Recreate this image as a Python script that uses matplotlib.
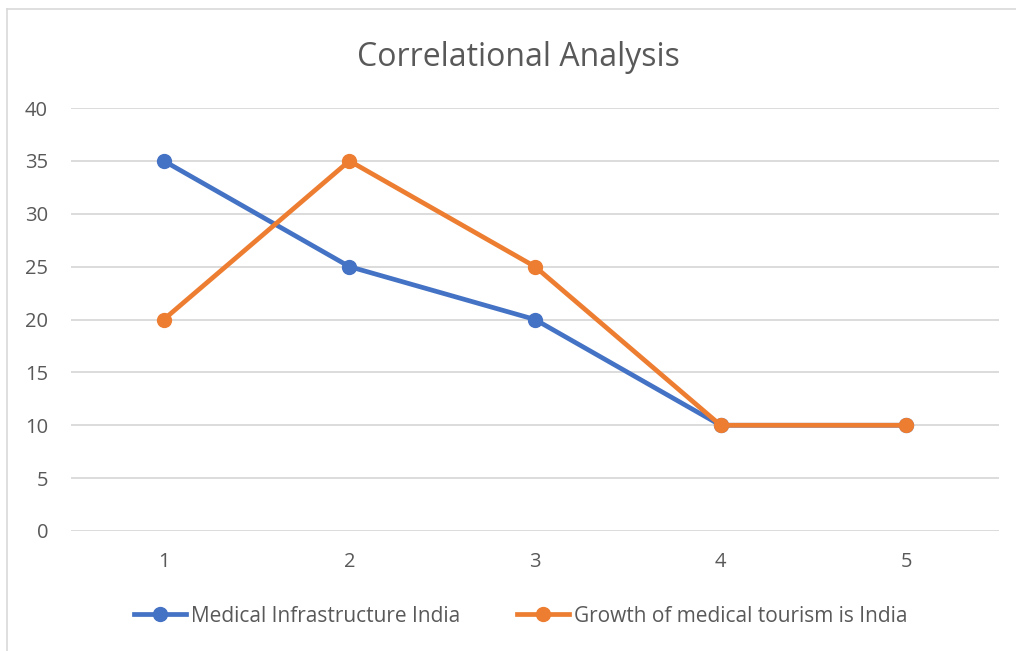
import matplotlib.pyplot as plt
from matplotlib.lines import Line2D

categories = [1, 2, 3, 4, 5]
medical_infra = [35, 25, 20, 10, 10]
tourism_growth = [20, 35, 25, 10, 10]
series_names = ["Medical Infrastructure India", "Growth of medical tourism is India"]

BLUE = "#4472C4"
ORANGE = "#ED7D31"
TEXT = "#595959"
GRID = "#D9D9D9"

plt.rcParams['font.family'] = ['Open Sans', 'DejaVu Sans']

fig = plt.figure(figsize=(10.16, 6.51), dpi=100)
ax = fig.add_axes([71 / 1016, 1 - 531 / 651, 928 / 1016, 423 / 651])

x = list(range(len(categories)))
ax.plot(x, medical_infra, color=BLUE, lw=3.4, marker='o', ms=10, label=series_names[0],
        solid_capstyle='round', zorder=3)
ax.plot(x, tourism_growth, color=ORANGE, lw=3.4, marker='o', ms=10, label=series_names[1],
        solid_capstyle='round', zorder=4)

ax.set_xlim(-0.5, len(categories) - 0.5)
ax.set_ylim(0, 40)
ax.set_yticks(range(0, 41, 5))
ax.set_xticks(x)
ax.set_xticklabels([str(c) for c in categories])
ax.grid(axis='y', color=GRID, lw=1.3)
ax.set_axisbelow(True)
for s in ax.spines.values():
    s.set_visible(False)
ax.tick_params(length=0, labelsize=14.5, colors=TEXT)
ax.tick_params(axis='y', pad=16.5)
ax.tick_params(axis='x', pad=15)

fig.text(518 / 1016, 1 - 57 / 651, "Correlational Analysis", ha='center', va='center',
         fontsize=23, color=TEXT)

handles = [Line2D([], [], color=BLUE, lw=3.4, marker='o', ms=10),
           Line2D([], [], color=ORANGE, lw=3.4, marker='o', ms=10)]
fig.legend(handles, series_names, loc='center', bbox_to_anchor=(521 / 1016, 1 - 616 / 651),
           ncol=2, frameon=False, fontsize=15, labelcolor=TEXT, handlelength=2.5,
           handletextpad=0.25, columnspacing=2.7)

# chart border (only top and left visible in reference)
fig.add_artist(Line2D([7 / 1016, 1], [1 - 9 / 651, 1 - 9 / 651], color=GRID, lw=1.2))
fig.add_artist(Line2D([7 / 1016, 7 / 1016], [0, 1 - 9 / 651], color=GRID, lw=1.2))

fig.savefig("out.png", dpi=100)
